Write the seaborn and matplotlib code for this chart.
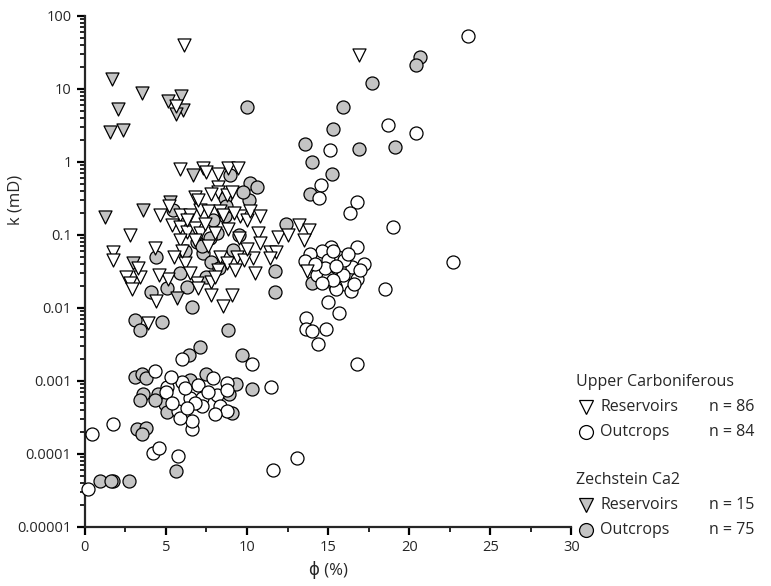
import numpy as np
import pandas as pd
import matplotlib
matplotlib.use("Agg")
import matplotlib.pyplot as plt
import seaborn as sns
from matplotlib.lines import Line2D
from matplotlib.ticker import FixedLocator, LogLocator, NullFormatter, MultipleLocator

# Upper Carboniferous - reservoirs (open triangles)
uc_res_phi = [6.1, 16.9, 5.6, 5.86, 7.3, 7.5, 8.2, 8.85, 9.46, 8.2, 8.2, 8.75, 7.8, 6.8, 9.05,
              4.63, 5.86, 6.48, 7.1, 7.6, 8.33, 8.54, 9.57, 9.98, 5.35, 5.86, 6.28, 6.8, 7.1,
              5.86, 8.0, 6.8, 2.78, 1.75, 1.75, 4.32, 6.17, 2.57, 3.4, 2.78, 5.14, 8.33, 9.36,
              8.75, 9.26, 8.23, 6.9, 7.8, 2.88, 7.0, 7.8, 9.05, 8.54, 4.42, 3.9, 10.2, 10.8,
              13.2, 13.8, 13.5, 11.9, 10.7, 10.8, 11.4, 11.8, 10.4, 11.4, 10.5, 13.7,
              6.3, 7.4, 8.8, 9.5, 6.0, 7.6, 9.8, 6.5, 5.5, 4.6, 8.0, 9.2, 7.0, 5.2, 10.0, 12.5, 3.3]
uc_res_k = [40, 29, 5.8, 0.80, 0.82, 0.74, 0.68, 0.82, 0.84, 0.46, 0.39, 0.35, 0.37, 0.33, 0.39,
            0.19, 0.19, 0.19, 0.22, 0.21, 0.21, 0.19, 0.18, 0.16, 0.137, 0.13, 0.111, 0.124, 0.105,
            0.085, 0.105, 0.085, 0.1, 0.059, 0.045, 0.066, 0.041, 0.027, 0.027, 0.022, 0.025, 0.050, 0.050,
            0.041, 0.033, 0.033, 0.022, 0.023, 0.018, 0.019, 0.015, 0.015, 0.0105, 0.0123, 0.0062, 0.21, 0.18,
            0.137, 0.117, 0.085, 0.095, 0.105, 0.077, 0.059, 0.059, 0.048, 0.048, 0.030, 0.032,
            0.16, 0.14, 0.12, 0.09, 0.06, 0.07, 0.045, 0.03, 0.05, 0.028, 0.027, 0.2, 0.3, 0.25, 0.065, 0.1, 0.035]

# Upper Carboniferous - outcrops (open circles)
uc_out_phi = [23.6, 18.7, 20.4, 15.1, 22.7, 14.57, 14.44, 16.8, 16.36, 19.0, 16.77, 15.2, 14.65,
              15.6, 13.9, 13.6, 15.0, 15.84, 16.5, 17.2, 14.3, 15.1, 15.0, 16.77, 16.05, 15.4,
              15.5, 16.4, 18.5, 15.0, 15.7, 13.64, 13.64, 14.0, 14.9, 14.36, 16.8, 10.3, 11.5,
              13.1, 11.6, 0.47, 0.2, 4.2, 4.57, 5.76, 6.58, 5.97, 4.32, 5.97, 5.04, 5.0, 6.48,
              7.2, 7.0, 8.13, 8.75, 8.75, 7.2, 5.76, 8.33, 8.75, 6.58, 5.86, 1.75,
              15.3, 16.0, 14.8, 15.9, 16.2, 14.2, 15.5, 17.0, 15.3, 14.6, 16.6,
              6.2, 7.6, 6.8, 5.4, 8.0, 6.3, 7.9, 5.3]
uc_out_k = [53, 3.2, 2.5, 1.45, 0.043, 0.49, 0.32, 0.286, 0.20, 0.13, 0.068, 0.069, 0.060,
            0.050, 0.055, 0.044, 0.046, 0.036, 0.037, 0.040, 0.028, 0.030, 0.027, 0.025, 0.021, 0.020,
            0.018, 0.017, 0.018, 0.012, 0.0085, 0.0074, 0.0052, 0.0049, 0.0052, 0.0032, 0.0017, 0.0017, 0.00084,
            0.000089, 0.00006, 0.000186, 0.000033, 0.000102, 0.00012, 0.000093, 0.00022, 0.0020, 0.00138,
            0.00097, 0.00084, 0.00071, 0.00058, 0.00058, 0.00089, 0.00065, 0.00095, 0.00075, 0.00045,
            0.00039, 0.00045, 0.00039, 0.00028, 0.00031, 0.00026,
            0.06, 0.045, 0.035, 0.028, 0.055, 0.04, 0.038, 0.033, 0.024, 0.022, 0.021,
            0.0008, 0.0007, 0.0005, 0.0005, 0.00035, 0.00042, 0.0011, 0.00112]

# Zechstein Ca2 - reservoirs (grey triangles)
zc_res_phi = [1.65, 3.5, 2.05, 1.54, 2.37, 5.14, 5.93, 6.07, 5.6, 1.23, 3.6, 6.69, 5.25, 2.98, 5.66]
zc_res_k = [13.6, 8.7, 5.3, 2.6, 2.74, 6.9, 8.0, 5.2, 4.6, 0.178, 0.22, 0.66, 0.286, 0.041, 0.0136]

# Zechstein Ca2 - outcrops (grey circles)
zc_out_phi = [20.7, 20.4, 17.7, 15.9, 9.98, 15.3, 13.6, 16.9, 19.1, 14.0, 15.27, 13.9, 10.2, 10.1,
              12.4, 11.7, 14.0, 10.3, 4.1, 5.08, 6.28, 6.58, 3.09, 3.4, 4.73, 8.85, 7.1, 6.4,
              3.09, 3.5, 9.7, 7.47, 6.48, 3.56, 3.4, 4.52, 4.94, 5.04, 8.9, 9.05, 3.19, 3.8, 3.5,
              0.93, 1.75, 2.74, 5.6, 9.78, 8.95, 8.64, 5.45, 8.64, 7.9, 6.9, 8.13, 4.38, 7.3,
              7.8, 9.15, 7.5, 1.6, 6.6, 7.7, 9.5, 10.6, 6.2, 8.3, 5.9, 4.3, 3.8, 9.3, 7.2, 8.7, 11.7]
zc_out_k = [27.6, 21, 12.2, 5.6, 5.6, 2.8, 1.75, 1.5, 1.6, 1.0, 0.68, 0.36, 0.51, 0.30,
            0.14, 0.032, 0.022, 0.00077, 0.0165, 0.019, 0.0196, 0.0104, 0.0069, 0.0050, 0.0065, 0.0050, 0.0029, 0.0023,
            0.00112, 0.00126, 0.0023, 0.00123, 0.00102, 0.00067, 0.00055, 0.00067, 0.00049, 0.00038, 0.00067, 0.00036, 0.00022, 0.00023, 0.000186,
            0.000042, 0.000042, 0.000042, 0.000059, 0.39, 0.66, 0.32, 0.22, 0.18, 0.16, 0.081, 0.105, 0.050, 0.056,
            0.043, 0.062, 0.027, 0.000042, 0.12, 0.09, 0.1, 0.45, 0.06, 0.035, 0.03, 0.00055, 0.0011, 0.0009, 0.07, 0.25, 0.0165]

y_ticks = [1e-5, 1e-4, 1e-3, 1e-2, 1e-1, 1, 10, 100]
y_labels = ["0.00001", "0.0001", "0.001", "0.01", "0.1", "1", "10", "100"]
x_ticks = [0, 5, 10, 15, 20, 25, 30]

grey = "#c4c4c4"
sns.set_style("ticks")
plt.rcParams["font.family"] = ["Open Sans", "DejaVu Sans"]

fig = plt.figure(figsize=(7.71, 5.86), dpi=100)
ax = fig.add_axes([0.110, 0.1007, 0.631, 0.872])

series = [
    (zc_out_phi, zc_out_k, "o", grey),
    (zc_res_phi, zc_res_k, "v", grey),
    (uc_out_phi, uc_out_k, "o", "white"),
    (uc_res_phi, uc_res_k, "v", "white"),
]
for phi, k, mk, fc in series:
    d = pd.DataFrame({"phi": phi, "k": k})
    sns.scatterplot(data=d, x="phi", y="k", marker=mk, color=fc, edgecolor="black",
                    linewidth=0.9, s=88, ax=ax, clip_on=False, zorder=3)

ax.set_yscale("log")
ax.set_xlim(0, 30)
ax.set_ylim(1e-5, 100)
ax.yaxis.set_major_locator(FixedLocator(y_ticks))
ax.set_yticklabels(y_labels)
ax.yaxis.set_minor_locator(LogLocator(base=10, subs=np.arange(2, 10), numticks=20))
ax.yaxis.set_minor_formatter(NullFormatter())
ax.set_xticks(x_ticks)
ax.xaxis.set_minor_locator(MultipleLocator(2.5))

for sp in ["top", "right"]:
    ax.spines[sp].set_visible(False)
for sp in ["left", "bottom"]:
    ax.spines[sp].set_linewidth(1.6)
ax.tick_params(which="major", length=6, width=1.6, labelsize=10.5, color="black")
ax.tick_params(which="minor", length=3.5, width=1.2, color="black")
ax.set_xlabel("\u03d5 (%)", fontsize=12, labelpad=4)
ax.set_ylabel("k (mD)", fontsize=12)
ax.yaxis.set_label_coords(-0.126, 0.64)

# legend drawn by hand to the right of the axes
W, H = 771, 586
def fx(px):
    return px / W
def fy(py):
    return 1 - py / H

leg = [
    ("Upper Carboniferous", None, None, None, 382),
    ("Reservoirs", "n = 86", "v", "white", 407),
    ("Outcrops", "n = 84", "o", "white", 432),
    ("Zechstein Ca2", None, None, None, 480),
    ("Reservoirs", "n = 15", "v", grey, 505),
    ("Outcrops", "n = 75", "o", grey, 530),
]
for label, n, mk, fc, py in leg:
    if mk is None:
        fig.text(fx(576), fy(py), label, fontsize=11.5, va="center", ha="left")
    else:
        fig.add_artist(Line2D([fx(586)], [fy(py)], marker=mk, markersize=10, markerfacecolor=fc,
                              markeredgecolor="black", markeredgewidth=0.9, linestyle="none",
                              transform=fig.transFigure))
        fig.text(fx(600), fy(py), label, fontsize=11.5, va="center", ha="left")
        fig.text(fx(709), fy(py), n, fontsize=11.5, va="center", ha="left")

fig.savefig("out.png", dpi=100)
